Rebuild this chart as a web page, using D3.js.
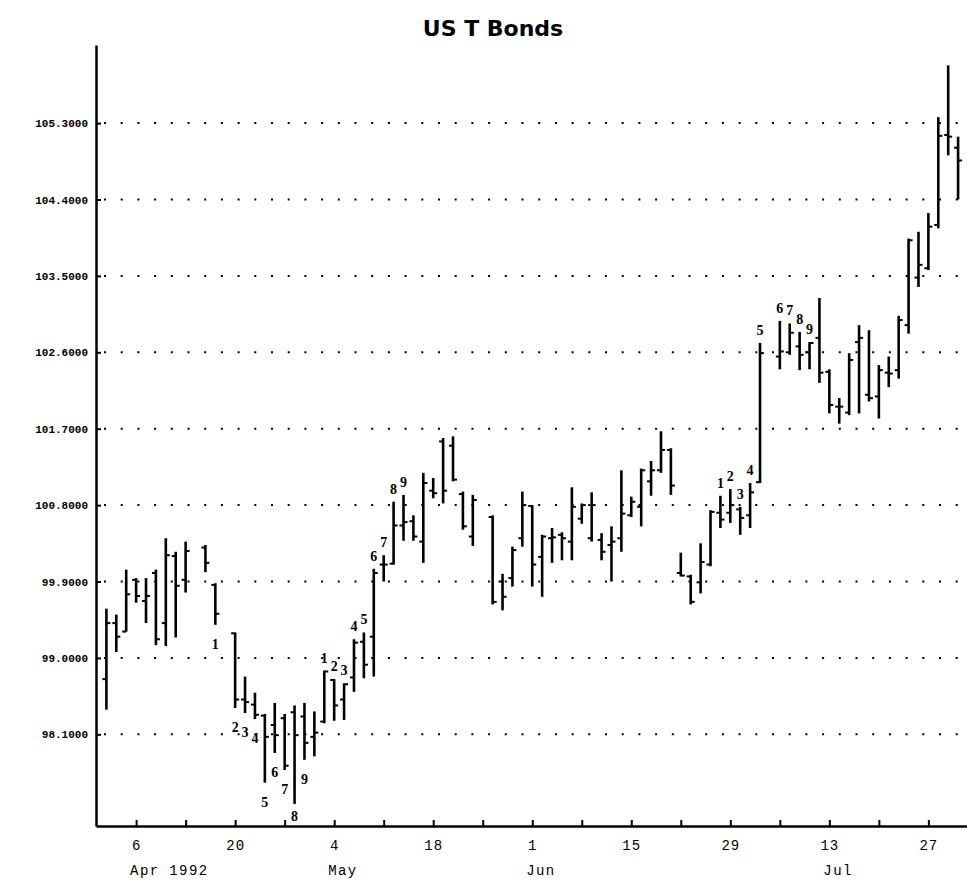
<!DOCTYPE html>
<html>
<head>
<meta charset="utf-8">
<script src="https://cdn.jsdelivr.net/npm/d3@7"></script>
<style>
  html, body { margin: 0; padding: 0; background: #fff; }
  svg { display: block; }
</style>
</head>
<body>
<script>
// ---------------- DATA ----------------
const dates = [
  "1992-04-01","1992-04-02","1992-04-03","1992-04-06","1992-04-07","1992-04-08","1992-04-09","1992-04-10",
  "1992-04-13","1992-04-15","1992-04-16","1992-04-20","1992-04-21","1992-04-22","1992-04-23","1992-04-24",
  "1992-04-27","1992-04-28","1992-04-29","1992-04-30","1992-05-01","1992-05-04","1992-05-05","1992-05-06",
  "1992-05-07","1992-05-08","1992-05-11","1992-05-12","1992-05-13","1992-05-14","1992-05-15","1992-05-18",
  "1992-05-19","1992-05-20","1992-05-21","1992-05-22","1992-05-26","1992-05-27","1992-05-28","1992-05-29",
  "1992-06-01","1992-06-02","1992-06-03","1992-06-04","1992-06-05","1992-06-08","1992-06-09","1992-06-10",
  "1992-06-11","1992-06-12","1992-06-15","1992-06-16","1992-06-17","1992-06-18","1992-06-19","1992-06-22",
  "1992-06-23","1992-06-24","1992-06-25","1992-06-26","1992-06-29","1992-06-30","1992-07-01","1992-07-02",
  "1992-07-06","1992-07-07","1992-07-08","1992-07-09","1992-07-10","1992-07-13","1992-07-14","1992-07-15",
  "1992-07-16","1992-07-17","1992-07-20","1992-07-21","1992-07-22","1992-07-23","1992-07-24","1992-07-27",
  "1992-07-28","1992-07-29","1992-07-30"
];
const open = [
  98.75, 99.41, 99.31, 99.92, 99.67,100.00, 99.41,100.20,
  99.92,100.30, 99.86, 99.29, 98.51, 98.45, 98.32, 98.21,
  98.29, 98.36, 98.31, 98.07, 98.25, 98.74, 98.51, 98.77,
  99.19, 99.25,100.10,100.11,100.56,100.61,100.37,100.97,
 101.55,101.50,100.93,100.43,100.66, 99.90, 99.94,100.41,
 100.79,100.19,100.41,100.45,100.37,100.64,100.41,100.39,
 100.33,100.41,100.68,100.78,101.08,101.21,101.45,100.00,
  99.96, 99.89,100.10,100.71,100.71,100.75,100.68,101.07,
 102.55,102.60,102.67,102.60,102.77,102.37,101.96,101.89,
 102.72,102.10,102.08,102.36,102.39,102.92,103.48,103.59,
 104.10,105.16,105.01
];
const high = [
  99.58, 99.51,100.04, 99.94, 99.94,100.04,100.41,100.25,
 100.37,100.33, 99.88, 99.30, 98.78, 98.59, 98.34, 98.47,
  98.34, 98.44, 98.47, 98.37, 98.85, 98.75, 98.70, 99.22,
  99.30,100.05,100.21,100.84,100.92,100.68,101.18,101.12,
 101.59,101.61,100.96,100.92,100.68, 99.99,100.31,100.96,
 100.80,100.45,100.53,100.48,101.01,100.82,100.95,100.47,
 100.55,101.21,100.90,101.23,101.32,101.67,101.47,100.24,
  99.98,100.35,100.74,100.91,100.99,100.78,101.06,102.71,
 102.97,102.94,102.84,102.72,103.24,102.40,102.06,102.59,
 102.92,102.86,102.45,102.55,103.03,103.94,104.02,104.24,
 105.37,105.98,105.14
];
const low = [
  98.39, 99.07, 99.31, 99.65, 99.41, 99.15, 99.14, 99.24,
  99.77,100.01, 99.39, 98.41, 98.35, 98.28, 97.53, 97.88,
  97.68, 97.28, 97.80, 97.84, 98.23, 98.26, 98.27, 98.60,
  98.76, 98.78, 99.90,100.10,100.38,100.38,100.12,100.88,
 100.82,101.08,100.51,100.32, 99.63, 99.56, 99.84,100.31,
  99.84, 99.72,100.12,100.15,100.15,100.58,100.37,100.15,
  99.90,100.25,100.66,100.55,100.91,101.18,100.92, 99.96,
  99.63, 99.76,100.08,100.53,100.59,100.45,100.53,101.06,
 102.40,102.57,102.39,102.40,102.24,101.88,101.76,101.86,
 101.88,102.02,101.82,102.19,102.29,102.82,103.37,103.57,
 104.06,104.92,104.40
];
const close = [
  99.41, 99.25, 99.75, 99.73, 99.73, 99.22,100.21, 99.85,
 100.26,100.12, 99.52, 98.51, 98.48, 98.33, 98.07, 98.09,
  97.73, 98.09, 98.00, 98.12, 98.84, 98.44, 98.69, 99.18,
  98.92,100.00,100.10,100.56,100.60,100.43,101.06,100.94,
 100.97,101.10,100.55,100.86, 99.66, 99.72,100.27,100.80,
 100.10,100.43,100.42,100.41,100.78,100.80,100.80,100.25,
 100.37,100.70,100.84,101.21,101.21,101.45,101.03, 99.97,
  99.66,100.13,100.72,100.63,100.80,100.65,100.95,102.59,
 102.61,102.83,102.57,102.71,102.36,101.98,101.96,102.51,
 102.77,102.06,102.39,102.35,102.98,103.92,103.63,104.08,
 105.15,105.14,104.86
];

// setup counts: date, number, placement relative to the bar
const countDates = [
  "1992-04-16","1992-04-20","1992-04-21","1992-04-22","1992-04-23","1992-04-24","1992-04-27","1992-04-28","1992-04-29",
  "1992-05-01","1992-05-04","1992-05-05","1992-05-06","1992-05-07","1992-05-08","1992-05-11","1992-05-12","1992-05-13",
  "1992-06-26","1992-06-29","1992-06-30","1992-07-01","1992-07-02","1992-07-06","1992-07-07","1992-07-08","1992-07-09"
];
const countNumbers = [1,2,3,4,5,6,7,8,9, 1,2,3,4,5,6,7,8,9, 1,2,3,4,5,6,7,8,9];
const countSides = [
  "below","below","below","below","below","below","below","below","below",
  "above","above","above","above","above","above","above","above","above",
  "above","above","above","above","above","above","above","above","above"
];

const yTicks = [98.1, 99.0, 99.9, 100.8, 101.7, 102.6, 103.5, 104.4, 105.3];
const monthLabelDates = ["1992-04-06","1992-05-04","1992-06-01","1992-07-13"];
const monthLabelTexts = ["Apr 1992","May","Jun","Jul"];
const chartTitle = "US T Bonds";

// ---------------- CHART ----------------
(function () {
const W = 967, H = 881;
const pLeft = 96, pRight = 967, pTop = 45, pBottom = 826;

const svg = d3.select("body").append("svg")
  .attr("width", W).attr("height", H)
  .style("font-family", "'Liberation Mono', monospace");

const parse = d3.utcParse("%Y-%m-%d");
const start = parse("1992-04-01");
// weekday (trading-day slot) index, counted from Apr 1 1992
function wd(d) {
  return d3.utcDays(start, d).filter(t => t.getUTCDay() !== 0 && t.getUTCDay() !== 6).length;
}

const x = d3.scaleLinear().domain([-1.05, 86.9]).range([pLeft, pRight]);
const y = d3.scaleLinear().domain([97.02, 106.22]).range([pBottom, pTop]);

const bars = dates.map((s, i) => ({
  i: wd(parse(s)), o: open[i], h: high[i], l: low[i], c: close[i]
}));

// title
svg.append("text")
  .attr("x", 493).attr("y", 36)
  .attr("text-anchor", "middle")
  .style("font-family", "'DejaVu Sans', sans-serif")
  .style("font-weight", "bold")
  .style("font-size", "22px")
  .text(chartTitle);

// dotted gridlines
svg.append("g").selectAll("line").data(yTicks).join("line")
  .attr("x1", pLeft + 8).attr("x2", pRight)
  .attr("y1", d => y(d)).attr("y2", d => y(d))
  .attr("stroke", "#000")
  .attr("stroke-width", 2)
  .attr("stroke-dasharray", "2,14.7");

// y axis
const yAxis = d3.axisLeft(y).tickValues(yTicks).tickFormat(d3.format(".4f"))
  .tickSize(-5).tickPadding(8).tickSizeOuter(0);
const gy = svg.append("g").attr("transform", `translate(${pLeft},0)`).call(yAxis);
gy.select(".domain").attr("stroke-width", 2.5);
gy.selectAll(".tick line").attr("stroke-width", 2);
gy.selectAll("text")
  .style("font-family", "'Liberation Mono', monospace")
  .style("font-size", "11px")
  .style("font-weight", "bold")
  .attr("fill", "#000");

// x axis
const mondays = d3.utcMondays(parse("1992-04-06"), parse("1992-07-28"));
const tickIdx = mondays.map(wd);
const xAxis = d3.axisBottom(x).tickValues(tickIdx)
  .tickFormat((d, k) => k % 2 === 0 ? d3.utcFormat("%-d")(mondays[k]) : "")
  .tickSize(-6).tickPadding(14).tickSizeOuter(0);
const gx = svg.append("g").attr("transform", `translate(0,${pBottom})`).call(xAxis);
gx.select(".domain").attr("stroke-width", 2.5);
gx.selectAll(".tick line").attr("stroke-width", 2);
gx.selectAll("text")
  .style("font-family", "'Liberation Mono', monospace")
  .style("font-size", "14px")
  .style("letter-spacing", "1px")
  .attr("fill", "#000");

// month labels
svg.append("g").selectAll("text").data(monthLabelDates).join("text")
  .attr("x", d => x(wd(parse(d))) - 6)
  .attr("y", 875)
  .style("font-family", "'Liberation Mono', monospace")
  .style("font-size", "14px")
  .style("letter-spacing", "1.4px")
  .text((d, k) => monthLabelTexts[k]);

// OHLC bars
const g = svg.append("g").attr("stroke", "#000");
g.selectAll("line.hl").data(bars).join("line").attr("class", "hl")
  .attr("x1", d => x(d.i)).attr("x2", d => x(d.i))
  .attr("y1", d => y(d.h)).attr("y2", d => y(d.l))
  .attr("stroke-width", 2.6);
g.selectAll("line.o").data(bars).join("line").attr("class", "o")
  .attr("x1", d => x(d.i) - 4).attr("x2", d => x(d.i))
  .attr("y1", d => y(d.o)).attr("y2", d => y(d.o))
  .attr("stroke-width", 2);
g.selectAll("line.c").data(bars).join("line").attr("class", "c")
  .attr("x1", d => x(d.i)).attr("x2", d => x(d.i) + 4)
  .attr("y1", d => y(d.c)).attr("y2", d => y(d.c))
  .attr("stroke-width", 2);

// setup count labels
const barByDate = new Map(dates.map((s, i) => [s, i]));
svg.append("g").selectAll("text").data(countDates).join("text")
  .attr("x", d => x(wd(parse(d))))
  .attr("y", (d, k) => {
    const bi = barByDate.get(d);
    return countSides[k] === "above"
      ? y(high[bi]) - 8
      : Math.min(y(low[bi]) + 24, pBottom - 5);
  })
  .attr("text-anchor", "middle")
  .style("font-family", "'Liberation Serif', serif")
  .style("font-weight", "bold")
  .style("font-size", "14px")
  .text((d, k) => countNumbers[k]);
})();
</script>
</body>
</html>
